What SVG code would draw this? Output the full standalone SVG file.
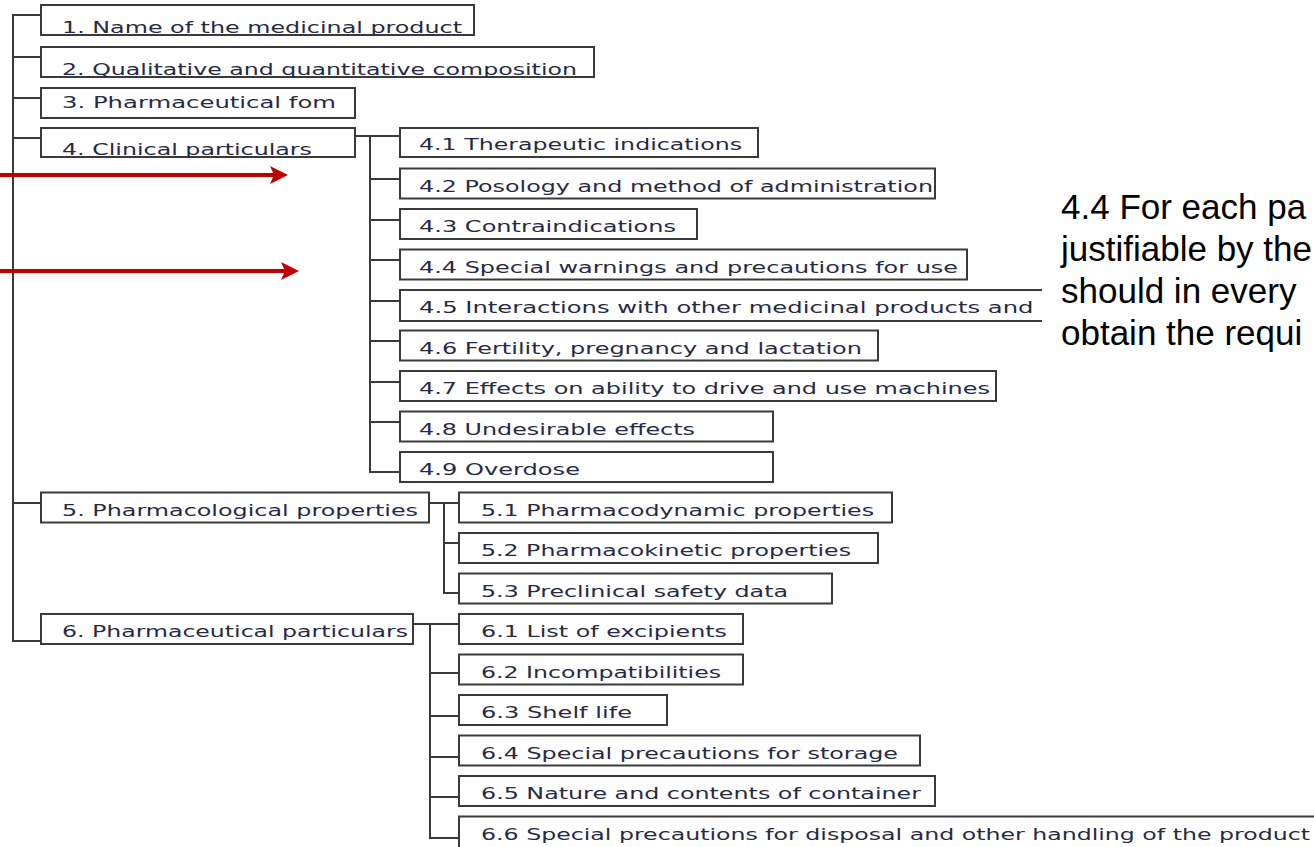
<svg xmlns="http://www.w3.org/2000/svg" width="1314" height="847" viewBox="0 0 1314 847">
<style>
.box{fill:#fff;stroke:#3a3a3a;stroke-width:2}
.t{font-family:"DejaVu Sans",Verdana,sans-serif;font-size:16.5px;fill:#262a45}
.conn{fill:none;stroke:#3a3a3a;stroke-width:2}
.arrow{stroke:#c00000;stroke-width:4;fill:none}
.ah{fill:#c00000}
.note{font-family:"Liberation Sans",Arial,sans-serif;font-size:35px;fill:#000}
</style>
<defs>
<clipPath id="clip45"><rect x="0" y="280" width="1042" height="60"/></clipPath>
</defs>
<rect width="1314" height="847" fill="#fff"/>
<g id="connectors">
<path class="conn" d="M41,15 H13 V641 H41 M13,57 H41 M13,98 H41 M13,138 H41 M13,503 H41"/>
<path class="conn" d="M355,136 H400 M370,136 V472 H400 M370,179 H400 M370,220 H400 M370,260 H400 M370,301 H400 M370,341 H400 M370,382 H400 M370,422 H400"/>
<path class="conn" d="M429,503 H459 M444,503 V593 H459 M444,543 H459"/>
<path class="conn" d="M413,624 H459 M430,624 V838 H459 M430,673 H459 M430,716 H459 M430,757 H459 M430,797 H459"/>
</g>
<g id="arrows">
<path class="arrow" d="M0,175 H274"/>
<polygon class="ah" points="270,166 288,175 270,184 274,175"/>
<path class="arrow" d="M0,271 H285"/>
<polygon class="ah" points="281,262 299,271 281,280 285,271"/>
</g>
<g id="n1"><rect class="box" x="41" y="5" width="433" height="30"/><text class="t" x="62" y="33" textLength="400" lengthAdjust="spacingAndGlyphs">1. Name of the medicinal product</text></g>
<g id="n2"><rect class="box" x="41" y="47" width="553" height="30"/><text class="t" x="62" y="75" textLength="515" lengthAdjust="spacingAndGlyphs">2. Qualitative and quantitative composition</text></g>
<g id="n3"><rect class="box" x="41" y="88" width="314" height="30"/><text class="t" x="62" y="108" textLength="274" lengthAdjust="spacingAndGlyphs">3. Pharmaceutical fom</text></g>
<g id="n4"><rect class="box" x="41" y="128" width="314" height="29"/><text class="t" x="62" y="155" textLength="250" lengthAdjust="spacingAndGlyphs">4. Clinical particulars</text></g>
<g id="n41"><rect class="box" x="400" y="128" width="358" height="29"/><text class="t" x="419" y="150" textLength="323" lengthAdjust="spacingAndGlyphs">4.1 Therapeutic indications</text></g>
<g id="n42"><rect class="box" x="400" y="168.5" width="535" height="30"/><text class="t" x="419" y="192" textLength="514" lengthAdjust="spacingAndGlyphs">4.2 Posology and method of administration</text></g>
<g id="n43"><rect class="box" x="400" y="209" width="297" height="30"/><text class="t" x="419" y="232" textLength="257" lengthAdjust="spacingAndGlyphs">4.3 Contraindications</text></g>
<g id="n44"><rect class="box" x="400" y="249.5" width="567" height="30"/><text class="t" x="419" y="273" textLength="539" lengthAdjust="spacingAndGlyphs">4.4 Special warnings and precautions for use</text></g>
<g id="n45" clip-path="url(#clip45)"><rect class="box" x="400" y="290" width="700" height="31"/><text class="t" x="419" y="313" textLength="637" lengthAdjust="spacingAndGlyphs">4.5 Interactions with other medicinal products and o</text></g>
<g id="n46"><rect class="box" x="400" y="330.5" width="478" height="30"/><text class="t" x="419" y="354" textLength="443" lengthAdjust="spacingAndGlyphs">4.6 Fertility, pregnancy and lactation</text></g>
<g id="n47"><rect class="box" x="400" y="371" width="596" height="30"/><text class="t" x="419" y="394" textLength="571" lengthAdjust="spacingAndGlyphs">4.7 Effects on ability to drive and use machines</text></g>
<g id="n48"><rect class="box" x="400" y="411.5" width="373" height="30"/><text class="t" x="419" y="435" textLength="276" lengthAdjust="spacingAndGlyphs">4.8 Undesirable effects</text></g>
<g id="n49"><rect class="box" x="400" y="452" width="373" height="30"/><text class="t" x="419" y="475" textLength="161" lengthAdjust="spacingAndGlyphs">4.9 Overdose</text></g>
<g id="n5"><rect class="box" x="41" y="492.5" width="388" height="30"/><text class="t" x="62" y="516" textLength="356" lengthAdjust="spacingAndGlyphs">5. Pharmacological properties</text></g>
<g id="n51"><rect class="box" x="459" y="492.5" width="433" height="30"/><text class="t" x="481" y="516" textLength="393" lengthAdjust="spacingAndGlyphs">5.1 Pharmacodynamic properties</text></g>
<g id="n52"><rect class="box" x="459" y="533" width="419" height="30"/><text class="t" x="481" y="556" textLength="370" lengthAdjust="spacingAndGlyphs">5.2 Pharmacokinetic properties</text></g>
<g id="n53"><rect class="box" x="459" y="573.5" width="373" height="30"/><text class="t" x="481" y="597" textLength="307" lengthAdjust="spacingAndGlyphs">5.3 Preclinical safety data</text></g>
<g id="n6"><rect class="box" x="41" y="614" width="372" height="30"/><text class="t" x="62" y="637" textLength="346" lengthAdjust="spacingAndGlyphs">6. Pharmaceutical particulars</text></g>
<g id="n61"><rect class="box" x="459" y="614" width="284" height="30"/><text class="t" x="481" y="637" textLength="246" lengthAdjust="spacingAndGlyphs">6.1 List of excipients</text></g>
<g id="n62"><rect class="box" x="459" y="654.5" width="284" height="30"/><text class="t" x="481" y="678" textLength="240" lengthAdjust="spacingAndGlyphs">6.2 Incompatibilities</text></g>
<g id="n63"><rect class="box" x="459" y="695" width="208" height="30"/><text class="t" x="481" y="718" textLength="151" lengthAdjust="spacingAndGlyphs">6.3 Shelf life</text></g>
<g id="n64"><rect class="box" x="459" y="735.5" width="461" height="30"/><text class="t" x="481" y="759" textLength="417" lengthAdjust="spacingAndGlyphs">6.4 Special precautions for storage</text></g>
<g id="n65"><rect class="box" x="459" y="776" width="476" height="30"/><text class="t" x="481" y="799" textLength="440" lengthAdjust="spacingAndGlyphs">6.5 Nature and contents of container</text></g>
<g id="n66"><rect class="box" x="459" y="816.5" width="880" height="40"/><text class="t" x="481" y="840" textLength="829" lengthAdjust="spacingAndGlyphs">6.6 Special precautions for disposal and other handling of the product</text></g>
<g id="note">
<text class="note" x="1061" y="219">4.4 For each pa</text>
<text class="note" x="1061" y="261">justifiable by the</text>
<text class="note" x="1061" y="303">should in every</text>
<text class="note" x="1061" y="345">obtain the requi</text>
</g>
</svg>
